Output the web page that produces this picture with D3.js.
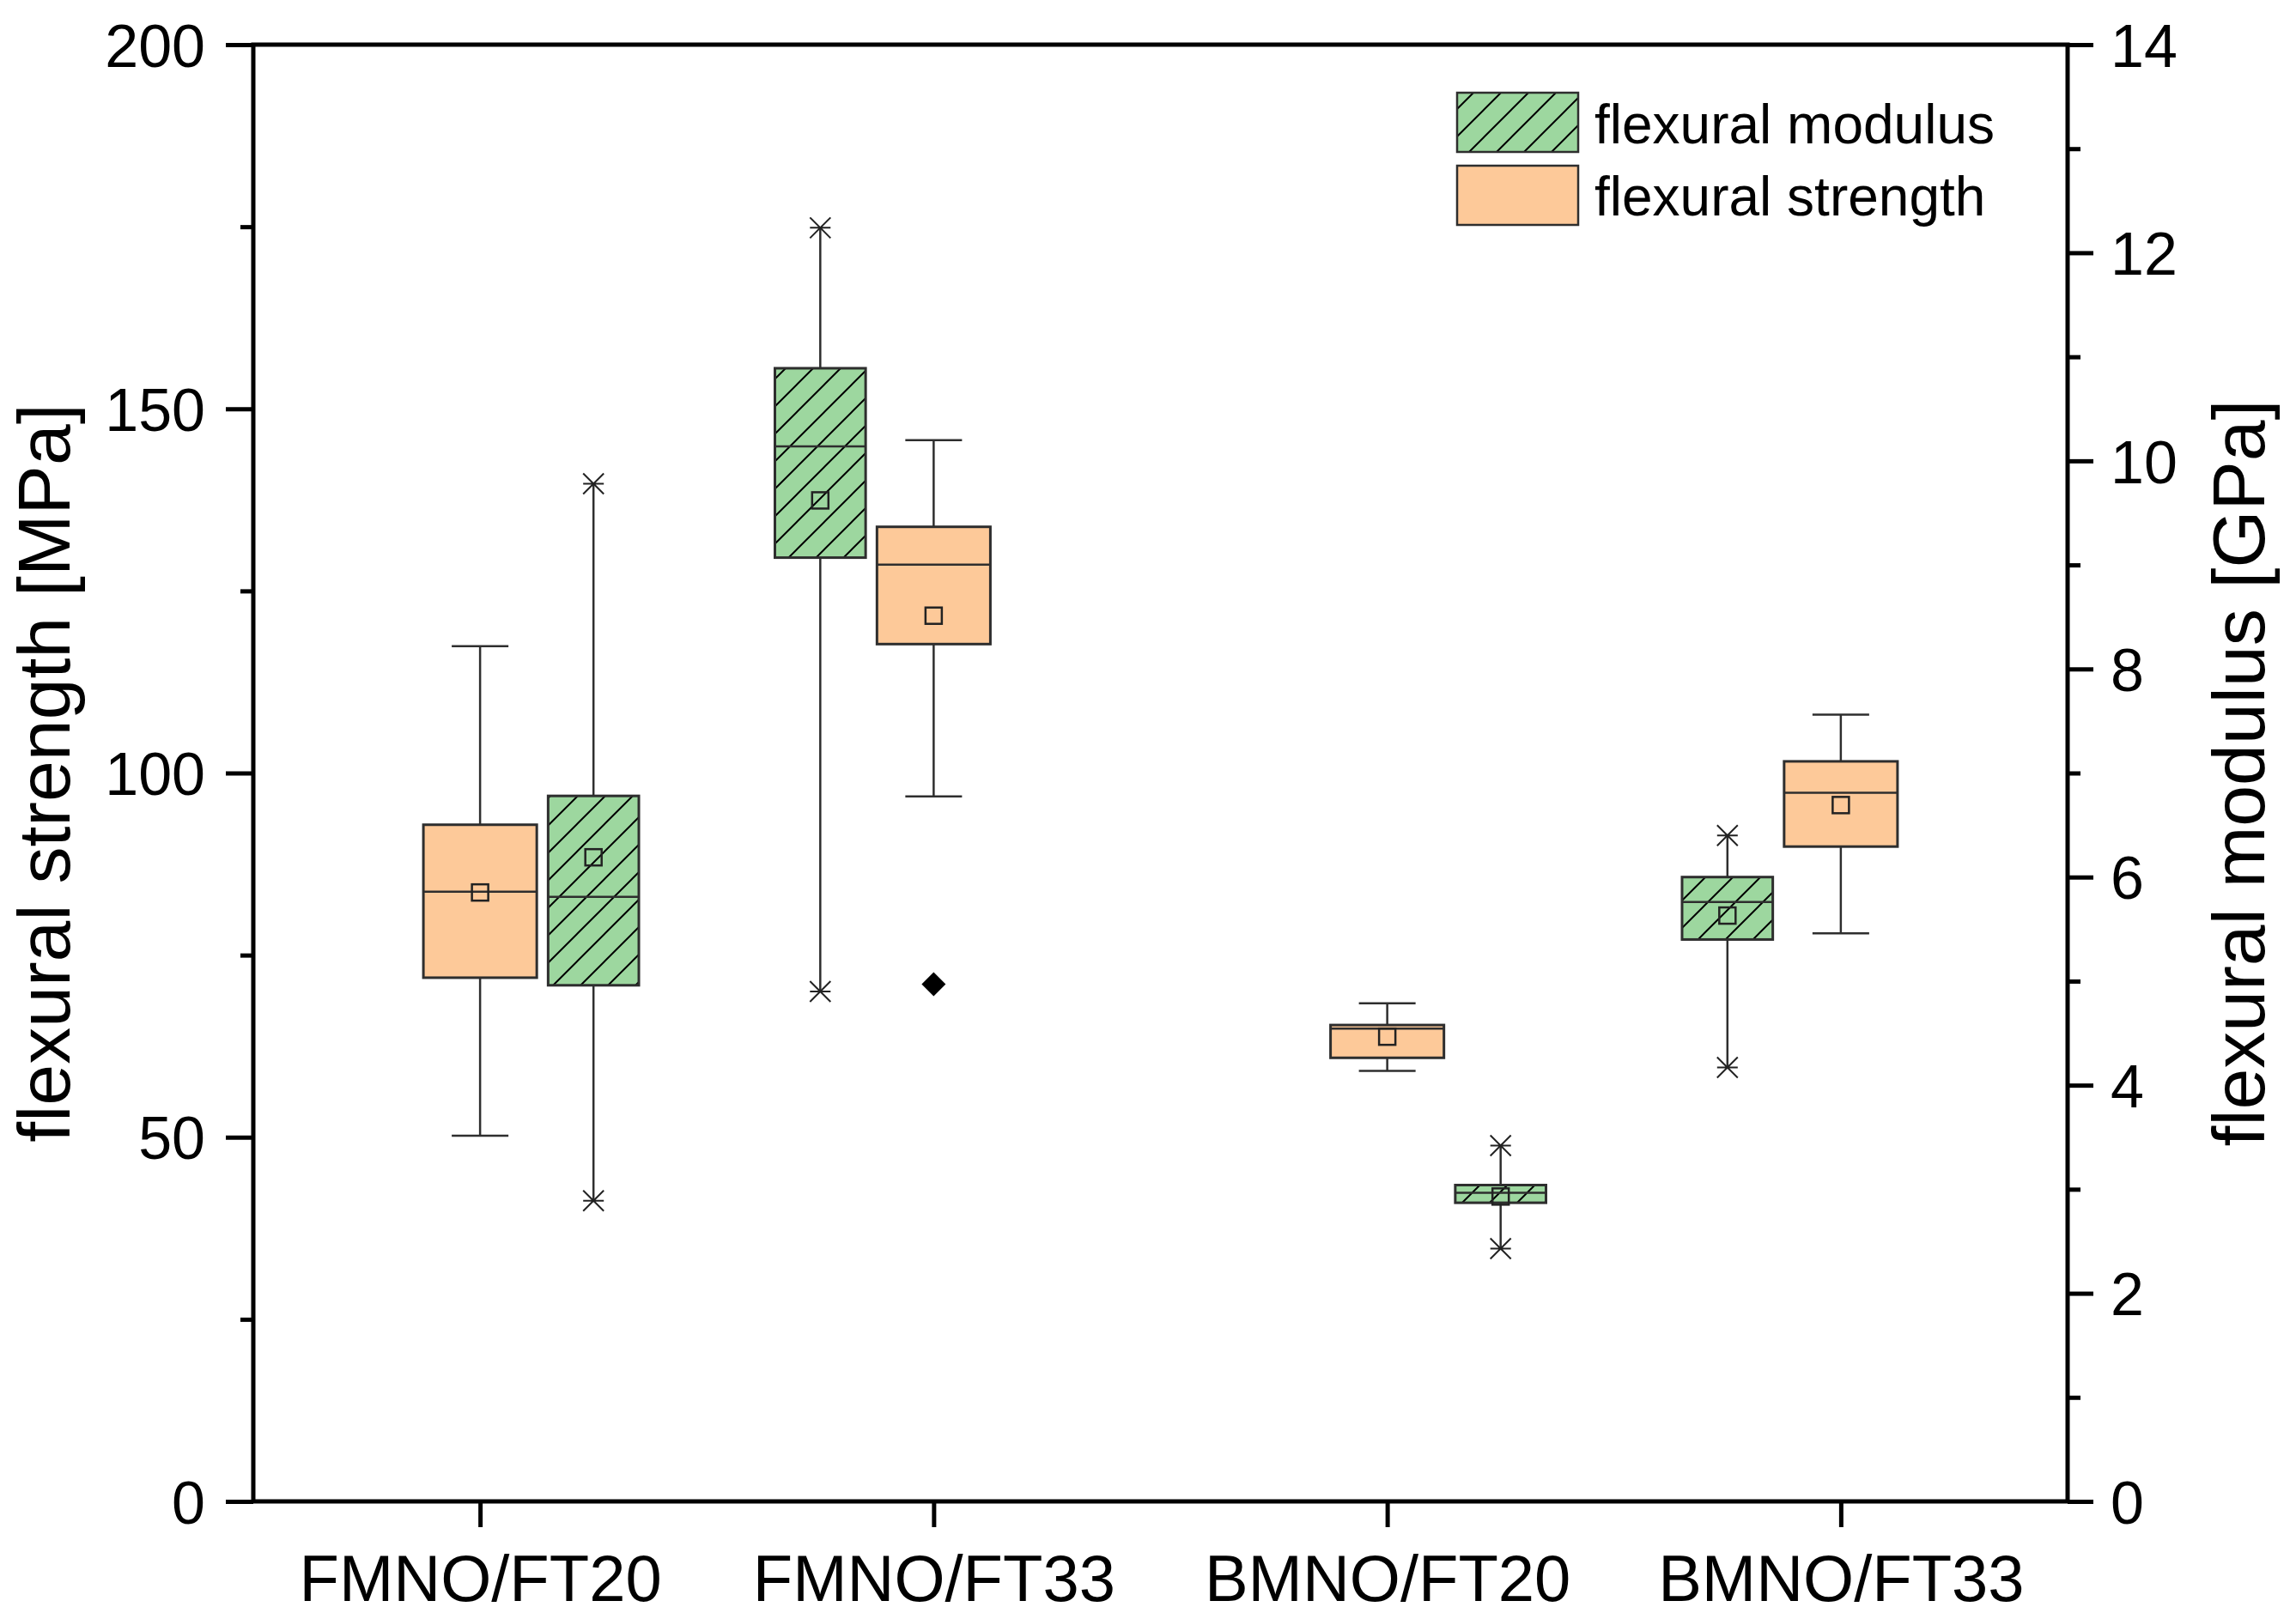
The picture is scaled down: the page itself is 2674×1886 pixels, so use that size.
<!DOCTYPE html>
<html>
<head>
<meta charset="utf-8">
<script src="https://cdn.jsdelivr.net/npm/d3@7"></script>
<style>
  body { margin: 0; background: white; }
  svg { display: block; }
  text { font-family: "Liberation Sans", Arial, sans-serif; fill: black; }
</style>
</head>
<body>
<svg id="chart" width="2674" height="1886"></svg>
<script>
// categories on the x axis
const CATEGORIES = ["FMNO/FT20", "FMNO/FT33", "BMNO/FT20", "BMNO/FT33"];

// flexural strength [MPa] (orange boxes, left axis), sits on the category
const STRENGTH_X = [1, 2, 3, 4];
const STRENGTH_MIN = [50.2, 96.8, 59.1, 78.0];
const STRENGTH_Q1 = [71.9, 117.7, 60.9, 89.9];
const STRENGTH_MEDIAN = [83.7, 128.6, 64.9, 97.3];
const STRENGTH_Q3 = [92.9, 133.8, 65.4, 101.6];
const STRENGTH_MAX = [117.4, 145.7, 68.4, 108.0];
const STRENGTH_MEAN = [83.6, 121.6, 63.8, 95.6];
const STRENGTH_OUTLIERS = [[], [71.0], [], []];

// flexural modulus [GPa] (green hatched boxes, right axis)
const MODULUS_X = [1.25, 1.75, 3.25, 3.75];
const MODULUS_MIN = [2.89, 4.90, 2.43, 4.17];
const MODULUS_Q1 = [4.96, 9.07, 2.87, 5.40];
const MODULUS_MEDIAN = [5.81, 10.14, 2.965, 5.76];
const MODULUS_Q3 = [6.78, 10.89, 3.04, 6.00];
const MODULUS_MAX = [9.78, 12.24, 3.42, 6.40];
const MODULUS_MEAN = [6.19, 9.62, 2.93, 5.63];

// ticks
const STRENGTH_TICKS = [0, 50, 100, 150, 200];
const STRENGTH_MINOR = [25, 75, 125, 175];
const MODULUS_TICKS = [0, 2, 4, 6, 8, 10, 12, 14];
const MODULUS_MINOR = [1, 3, 5, 7, 9, 11, 13];

const LEGEND_LABELS = ["flexural modulus", "flexural strength"];

const GREEN = "#9dd79f";
const ORANGE = "#fdc999";
const EDGE = "#2e2e2e";

const plotLeft = 295, plotRight = 2408, plotTop = 52, plotBottom = 1749;

const svg = d3.select("#chart");

const x = d3.scaleLinear().domain([0.5, 4.5]).range([plotLeft, plotRight]);
const yS = d3.scaleLinear().domain([0, 200]).range([plotBottom, plotTop]);
const yM = d3.scaleLinear().domain([0, 14]).range([plotBottom, plotTop]);

// hatch pattern for the modulus boxes
const defs = svg.append("defs");
const pat = defs.append("pattern")
  .attr("id", "hatch")
  .attr("patternUnits", "userSpaceOnUse")
  .attr("width", 32)
  .attr("height", 32);
pat.append("rect").attr("width", 32).attr("height", 32).attr("fill", GREEN);
pat.append("path")
  .attr("d", "M0,32L32,0M-8,8L8,-8M24,40L40,24")
  .attr("stroke", "black")
  .attr("stroke-width", 2);

function styleAxis(g, size) {
  g.select(".domain").remove();
  g.selectAll(".tick line").attr("stroke", "black").attr("stroke-width", 5);
  g.attr("font-size", size).attr("font-family", null);
  g.selectAll("text").attr("fill", "black");
}

// left axis
const leftMinor = svg.append("g")
  .attr("transform", `translate(${plotLeft},0)`)
  .call(d3.axisLeft(yS).tickValues(STRENGTH_MINOR).tickSize(15).tickFormat(""));
styleAxis(leftMinor, 70);

const leftAxis = svg.append("g")
  .attr("transform", `translate(${plotLeft},0)`)
  .call(d3.axisLeft(yS).tickValues(STRENGTH_TICKS).tickSize(32).tickPadding(24));
styleAxis(leftAxis, 70);
leftAxis.selectAll("text").attr("dy", "0.36em");

// right axis
const rightMinor = svg.append("g")
  .attr("transform", `translate(${plotRight},0)`)
  .call(d3.axisRight(yM).tickValues(MODULUS_MINOR).tickSize(15).tickFormat(""));
styleAxis(rightMinor, 70);

const rightAxis = svg.append("g")
  .attr("transform", `translate(${plotRight},0)`)
  .call(d3.axisRight(yM).tickValues(MODULUS_TICKS).tickSize(30).tickPadding(20));
styleAxis(rightAxis, 70);
rightAxis.selectAll("text").attr("dy", "0.36em");

// bottom axis
const bottomAxis = svg.append("g")
  .attr("transform", `translate(0,${plotBottom})`)
  .call(d3.axisBottom(x).tickValues(STRENGTH_X).tickSize(30)
    .tickFormat((d, i) => CATEGORIES[i]));
styleAxis(bottomAxis, 76);
bottomAxis.selectAll("text").attr("y", 116).attr("dy", 0);

// frame
svg.append("rect")
  .attr("x", plotLeft).attr("y", plotTop)
  .attr("width", plotRight - plotLeft).attr("height", plotBottom - plotTop)
  .attr("fill", "none")
  .attr("stroke", "black")
  .attr("stroke-width", 5);

// axis titles
svg.append("text")
  .attr("transform", `translate(81,${(plotTop + plotBottom) / 2}) rotate(-90)`)
  .attr("text-anchor", "middle")
  .attr("font-size", 86)
  .text("flexural strength [MPa]");

svg.append("text")
  .attr("transform", `translate(2637,${(plotTop + plotBottom) / 2}) rotate(-90)`)
  .attr("text-anchor", "middle")
  .attr("font-size", 86)
  .text("flexural modulus [GPa]");

const plot = svg.append("g");

function starPath(cx, cy, r) {
  return `M${cx - r},${cy - r}L${cx + r},${cy + r}M${cx - r},${cy + r}L${cx + r},${cy - r}` +
    `M${cx - r},${cy}L${cx + r},${cy}`;
}

// modulus boxes
const mw = x(1.2) - x(1);
for (let i = 0; i < CATEGORIES.length; i++) {
  const cx = x(MODULUS_X[i]);
  plot.append("line")
    .attr("x1", cx).attr("x2", cx)
    .attr("y1", yM(MODULUS_MAX[i])).attr("y2", yM(MODULUS_MIN[i]))
    .attr("stroke", EDGE).attr("stroke-width", 2.5);
  plot.append("rect")
    .attr("x", cx - mw / 2).attr("width", mw)
    .attr("y", yM(MODULUS_Q3[i]))
    .attr("height", yM(MODULUS_Q1[i]) - yM(MODULUS_Q3[i]))
    .attr("fill", "url(#hatch)")
    .attr("stroke", EDGE).attr("stroke-width", 3);
  plot.append("line")
    .attr("x1", cx - mw / 2).attr("x2", cx + mw / 2)
    .attr("y1", yM(MODULUS_MEDIAN[i])).attr("y2", yM(MODULUS_MEDIAN[i]))
    .attr("stroke", EDGE).attr("stroke-width", 2.5);
  for (const v of [MODULUS_MIN[i], MODULUS_MAX[i]]) {
    plot.append("path")
      .attr("d", starPath(cx, yM(v), 12))
      .attr("stroke", "#222").attr("stroke-width", 2)
      .attr("fill", "none");
  }
  plot.append("rect")
    .attr("x", cx - 9.5).attr("y", yM(MODULUS_MEAN[i]) - 9.5)
    .attr("width", 19).attr("height", 19)
    .attr("fill", "none")
    .attr("stroke", "#222").attr("stroke-width", 2.5);
}

// strength boxes
const sw = x(1.25) - x(1);
for (let i = 0; i < CATEGORIES.length; i++) {
  const cx = x(STRENGTH_X[i]);
  plot.append("line")
    .attr("x1", cx).attr("x2", cx)
    .attr("y1", yS(STRENGTH_MAX[i])).attr("y2", yS(STRENGTH_MIN[i]))
    .attr("stroke", EDGE).attr("stroke-width", 2.5);
  for (const v of [STRENGTH_MIN[i], STRENGTH_MAX[i]]) {
    plot.append("line")
      .attr("x1", cx - sw / 4).attr("x2", cx + sw / 4)
      .attr("y1", yS(v)).attr("y2", yS(v))
      .attr("stroke", EDGE).attr("stroke-width", 2.5);
  }
  plot.append("rect")
    .attr("x", cx - sw / 2).attr("width", sw)
    .attr("y", yS(STRENGTH_Q3[i]))
    .attr("height", yS(STRENGTH_Q1[i]) - yS(STRENGTH_Q3[i]))
    .attr("fill", ORANGE)
    .attr("stroke", EDGE).attr("stroke-width", 3);
  plot.append("line")
    .attr("x1", cx - sw / 2).attr("x2", cx + sw / 2)
    .attr("y1", yS(STRENGTH_MEDIAN[i])).attr("y2", yS(STRENGTH_MEDIAN[i]))
    .attr("stroke", EDGE).attr("stroke-width", 2.5);
  plot.append("rect")
    .attr("x", cx - 9.5).attr("y", yS(STRENGTH_MEAN[i]) - 9.5)
    .attr("width", 19).attr("height", 19)
    .attr("fill", "none")
    .attr("stroke", "#222").attr("stroke-width", 2.5);
  for (const v of STRENGTH_OUTLIERS[i]) {
    const oy = yS(v);
    plot.append("path")
      .attr("d", `M${cx},${oy - 14}L${cx + 14},${oy}L${cx},${oy + 14}L${cx - 14},${oy}Z`)
      .attr("fill", "black");
  }
}

// legend
const legend = svg.append("g");
const legendFills = ["url(#hatch)", ORANGE];
for (let i = 0; i < LEGEND_LABELS.length; i++) {
  const ly = 108 + i * 85;
  legend.append("rect")
    .attr("x", 1697).attr("y", ly)
    .attr("width", 141).attr("height", 69)
    .attr("fill", legendFills[i])
    .attr("stroke", EDGE).attr("stroke-width", 2.5);
  legend.append("text")
    .attr("x", 1857).attr("y", 167 + i * 84)
    .attr("font-size", 64)
    .text(LEGEND_LABELS[i]);
}
</script>
</body>
</html>
